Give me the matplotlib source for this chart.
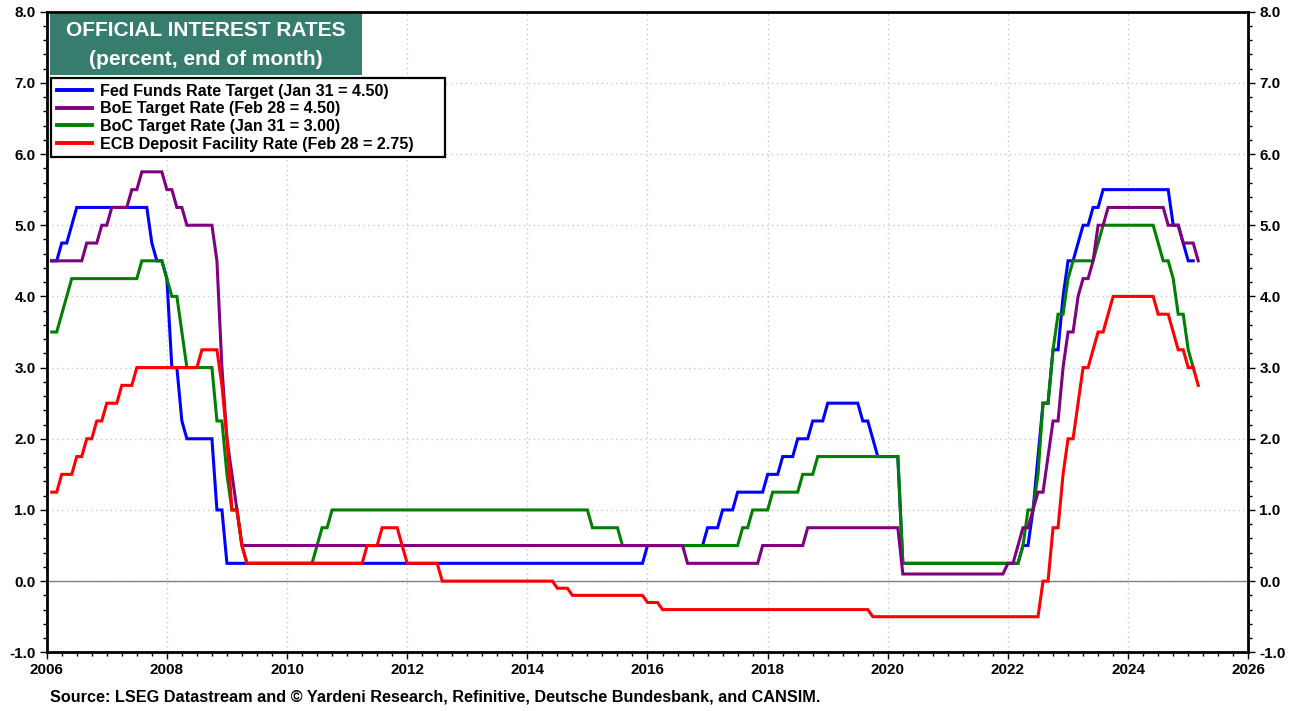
import matplotlib
matplotlib.use("Agg")
import matplotlib.pyplot as plt
from matplotlib.patches import Rectangle
from matplotlib.ticker import MultipleLocator, FormatStrFormatter

# ---- data: (year, month, end-of-month rate from that month on) ----
fed_changes = [(2006,1,4.50),(2006,3,4.75),(2006,5,5.00),(2006,6,5.25),(2007,9,4.75),(2007,10,4.50),
               (2007,12,4.25),(2008,1,3.00),(2008,3,2.25),(2008,4,2.00),(2008,10,1.00),(2008,12,0.25),
               (2015,12,0.50),(2016,12,0.75),(2017,3,1.00),(2017,6,1.25),(2017,12,1.50),(2018,3,1.75),
               (2018,6,2.00),(2018,9,2.25),(2018,12,2.50),(2019,7,2.25),(2019,9,2.00),(2019,10,1.75),
               (2020,3,0.25),(2022,3,0.50),(2022,5,1.00),(2022,6,1.75),(2022,7,2.50),(2022,9,3.25),
               (2022,11,4.00),(2022,12,4.50),(2023,2,4.75),(2023,3,5.00),(2023,5,5.25),(2023,7,5.50),
               (2024,9,5.00),(2024,11,4.75),(2024,12,4.50)]
fed_end = (2025, 1)

boe_changes = [(2006,1,4.50),(2006,8,4.75),(2006,11,5.00),(2007,1,5.25),(2007,5,5.50),(2007,7,5.75),
               (2007,12,5.50),(2008,2,5.25),(2008,4,5.00),(2008,10,4.50),(2008,11,3.00),(2008,12,2.00),
               (2009,1,1.50),(2009,2,1.00),(2009,3,0.50),(2016,8,0.25),(2017,11,0.50),(2018,8,0.75),
               (2020,3,0.10),(2021,12,0.25),(2022,2,0.50),(2022,3,0.75),(2022,5,1.00),(2022,6,1.25),
               (2022,8,1.75),(2022,9,2.25),(2022,11,3.00),(2022,12,3.50),(2023,2,4.00),(2023,3,4.25),
               (2023,5,4.50),(2023,6,5.00),(2023,8,5.25),(2024,8,5.00),(2024,11,4.75),(2025,2,4.50)]
boe_end = (2025, 2)

boc_changes = [(2006,1,3.50),(2006,3,3.75),(2006,4,4.00),(2006,5,4.25),(2007,7,4.50),(2007,12,4.25),
               (2008,1,4.00),(2008,3,3.50),(2008,4,3.00),(2008,10,2.25),(2008,12,1.50),(2009,1,1.00),
               (2009,3,0.50),(2009,4,0.25),(2010,6,0.50),(2010,7,0.75),(2010,9,1.00),(2015,1,0.75),
               (2015,7,0.50),(2017,7,0.75),(2017,9,1.00),(2018,1,1.25),(2018,7,1.50),(2018,10,1.75),
               (2020,3,0.25),(2022,3,0.50),(2022,4,1.00),(2022,6,1.50),(2022,7,2.50),(2022,9,3.25),
               (2022,10,3.75),(2022,12,4.25),(2023,1,4.50),(2023,6,4.75),(2023,7,5.00),(2024,6,4.75),
               (2024,7,4.50),(2024,9,4.25),(2024,10,3.75),(2024,12,3.25),(2025,1,3.00)]
boc_end = (2025, 1)

ecb_changes = [(2006,1,1.25),(2006,3,1.50),(2006,6,1.75),(2006,8,2.00),(2006,10,2.25),(2006,12,2.50),
               (2007,3,2.75),(2007,6,3.00),(2008,7,3.25),(2008,11,2.75),(2008,12,2.00),(2009,1,1.00),
               (2009,3,0.50),(2009,4,0.25),(2011,4,0.50),(2011,7,0.75),(2011,11,0.50),(2011,12,0.25),
               (2012,7,0.00),(2014,6,-0.10),(2014,9,-0.20),(2015,12,-0.30),(2016,3,-0.40),(2019,9,-0.50),
               (2022,7,0.00),(2022,9,0.75),(2022,11,1.50),(2022,12,2.00),(2023,2,2.50),(2023,3,3.00),
               (2023,5,3.25),(2023,6,3.50),(2023,8,3.75),(2023,9,4.00),(2024,6,3.75),(2024,9,3.50),
               (2024,10,3.25),(2024,12,3.00),(2025,2,2.75)]
ecb_end = (2025, 2)

labels = ["Fed Funds Rate Target (Jan 31 = 4.50)",
          "BoE Target Rate (Feb 28 = 4.50)",
          "BoC Target Rate (Jan 31 = 3.00)",
          "ECB Deposit Facility Rate (Feb 28 = 2.75)"]
colors = ["#0000ff", "#800080", "#008000", "#ff0000"]

title_lines = ["OFFICIAL INTEREST RATES", "(percent, end of month)"]
source = "Source: LSEG Datastream and \u00a9 Yardeni Research, Refinitive, Deutsche Bundesbank, and CANSIM."


def monthly(changes, end):
    y0, m0, _ = changes[0]
    xs, vs = [], []
    y, m = y0, m0
    idx = 0
    val = changes[0][2]
    while (y, m) <= end:
        while idx < len(changes) and (changes[idx][0], changes[idx][1]) <= (y, m):
            val = changes[idx][2]
            idx += 1
        xs.append(y + m / 12.0)
        vs.append(val)
        m += 1
        if m > 12:
            m = 1
            y += 1
    return xs, vs


plt.rcParams['font.family'] = ['Liberation Sans', 'DejaVu Sans']
plt.rcParams['font.weight'] = 'bold'

W, H = 1292, 711
fig = plt.figure(figsize=(W / 100, H / 100), dpi=100)
L, R, T, B = 46.7, 1248.3, 11.7, 652.3
ax = fig.add_axes([L / W, 1 - B / H, (R - L) / W, (B - T) / H])

series = [(fed_changes, fed_end), (boe_changes, boe_end), (boc_changes, boc_end), (ecb_changes, ecb_end)]
lines = []
zorders = [3, 5, 4, 6]
for (ch, en), c, lab, z in zip(series, colors, labels, zorders):
    xs, vs = monthly(ch, en)
    ln, = ax.plot(xs, vs, color=c, lw=2.2, label=lab, zorder=z, solid_joinstyle='miter')
    lines.append(ln)

ax.set_xlim(2006, 2026)
ax.set_ylim(-1, 8)
ax.axhline(0, color='#808080', lw=1.0, zorder=2)

ax.xaxis.set_major_locator(MultipleLocator(2))
ax.xaxis.set_minor_locator(MultipleLocator(0.25))
ax.yaxis.set_major_locator(MultipleLocator(1))
ax.yaxis.set_minor_locator(MultipleLocator(0.2))
ax.yaxis.set_major_formatter(FormatStrFormatter('%.1f'))
ax.grid(True, which='major', color='#c8c8c8', ls=(0, (1, 2.5)), lw=1.0, zorder=1)

ax.tick_params(axis='both', which='both', direction='out', labelsize=11, width=1.0, colors='black')
ax.tick_params(axis='both', which='major', length=5, pad=3)
ax.tick_params(axis='both', which='minor', length=3)
ax.tick_params(axis='y', which='both', left=True, right=True, labelleft=True, labelright=True)
ax.tick_params(axis='x', which='both', top=False)
for lab in ax.get_xticklabels() + ax.get_yticklabels():
    lab.set_fontweight('bold')
for sp in ax.spines.values():
    sp.set_linewidth(2.0)

# title box
fig.patches.append(Rectangle((50 / W, 1 - 75 / H), (362 - 50) / W, (75 - 14) / H,
                             transform=fig.transFigure, facecolor='#367d6e', edgecolor='none', zorder=10))
fig.text(206 / W, 1 - 30.5 / H, title_lines[0], color='white', fontsize=15, fontweight='bold',
         ha='center', va='center', zorder=11)
fig.text(206 / W, 1 - 59.5 / H, title_lines[1], color='white', fontsize=15, fontweight='bold',
         ha='center', va='center', zorder=11)

# legend box + legend
fig.patches.append(Rectangle((51 / W, 1 - 157 / H), (445 - 51) / W, (157 - 78) / H,
                             transform=fig.transFigure, facecolor='white', edgecolor='black', lw=1.6,
                             zorder=9))
handles = [lines[0], lines[1], lines[2], lines[3]]
leg = fig.legend(handles, labels, loc='upper left', bbox_to_anchor=(52 / W, 1 - 79 / H),
                 bbox_transform=fig.transFigure, borderaxespad=0, frameon=False,
                 prop={'size': 11.6, 'weight': 'bold'}, handlelength=2.2, handletextpad=0.45,
                 labelspacing=0.16, borderpad=0.3)
leg.set_zorder(12)
for h in leg.legend_handles:
    h.set_linewidth(2.8)

fig.text(50 / W, 1 - 697 / H, source, fontsize=11.7, fontweight='bold', ha='left', va='center')

fig.savefig("out.png", dpi=100)
